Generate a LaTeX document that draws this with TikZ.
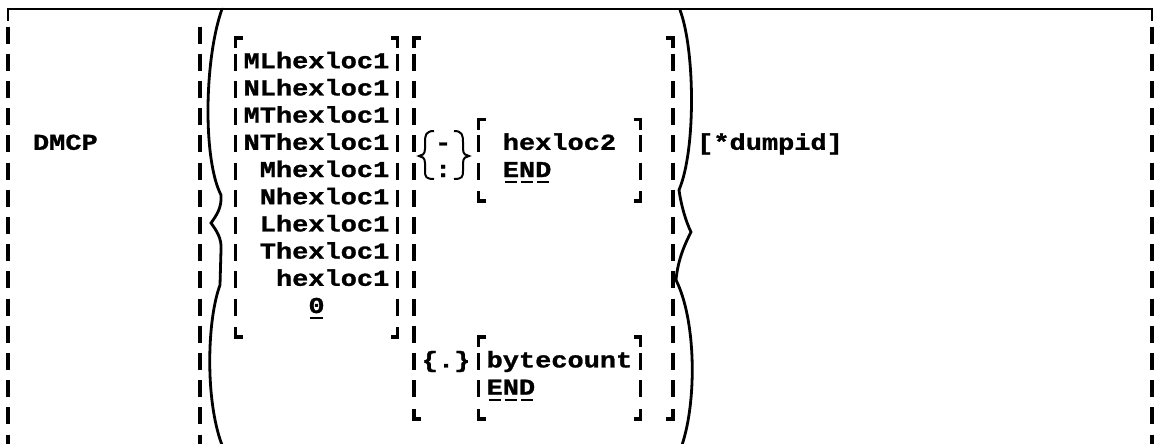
\documentclass[tikz,border=0pt]{standalone}
\usepackage{fontspec}
\newfontfamily\typefont[FakeStretch=1.19,FakeBold=1.2]{Liberation Mono}

% character grid of the typed syntax box (units are pixels, y downwards)
\newcommand\rowc[1]{(35+27.2*(#1))}
\newcommand\colx[1]{(0.6+16.2*(#1))}
\newcommand\colm[1]{(8.7+16.2*(#1))}

% typed rule pieces: bar, and the four corner marks
\newcommand\dgbar[2]{\draw[barline] ({#1},{\rowc{#2}-8.5}) -- ({#1},{\rowc{#2}+8.5});}
\newcommand\dgtl[2]{\draw[barline] ({#1},{\rowc{#2}+13}) -- ({#1},{\rowc{#2}+3}) -- ({#1+7},{\rowc{#2}+3});}
\newcommand\dgtr[2]{\draw[barline] ({#1},{\rowc{#2}+13}) -- ({#1},{\rowc{#2}+3}) -- ({#1-7},{\rowc{#2}+3});}
\newcommand\dgbl[2]{\draw[barline] ({#1},{\rowc{#2}-7}) -- ({#1},{\rowc{#2}+3}) -- ({#1+7},{\rowc{#2}+3});}
\newcommand\dgbr[2]{\draw[barline] ({#1},{\rowc{#2}-7}) -- ({#1},{\rowc{#2}+3}) -- ({#1-7},{\rowc{#2}+3});}
% underline of one typed character
\newcommand\dgul[2]{\draw[uline] ({\colx{#1}+2},{\rowc{#2}+11}) -- ({\colx{#1}+14.2},{\rowc{#2}+11});}

\begin{document}
\begin{tikzpicture}[x=0.75pt,y=-0.75pt,
  txt/.style={inner sep=0pt, outer sep=0pt, anchor=base west,
    font=\typefont\bfseries\fontsize{17}{18}\selectfont},
  barline/.style={line width=2.8pt},
  rule/.style={line width=2.2pt},
  arcline/.style={line width=2.1pt, line cap=round},
  brace/.style={line width=1.5pt},
  uline/.style={line width=1.5pt}]
\useasboundingbox (0,0) rectangle (1156,443);

% outer box: top rule with corners and the typed side bars
\draw[rule] (8,21) -- (8,9) -- (1152,9) -- (1152,21);
\foreach \r in {0,...,15} {\dgbar{8}{\r} \dgbar{1152}{\r}}

% command name
\node[txt] (dmcp) at ({\colx{2}},{\rowc{4}+6}) {DMCP};

% separator bar before the operands
\foreach \r in {0,...,15} {\dgbar{200}{\r}}

% large left and right braces around the operands
\draw[arcline] (222,9) .. controls (204,60) and (203,160) .. (221,195)
  .. controls (222,208) and (216,216) .. (211,223)
  .. controls (216,230) and (222,238) .. (221,250)
  -- (220,285) .. controls (207,320) and (205,400) .. (222,445);
\draw[arcline] (680,10) .. controls (695,50) and (696,150) .. (679,190)
  .. controls (681,205) and (686,222) .. (691,232)
  .. controls (686,242) and (678,258) .. (676,280)
  .. controls (696,320) and (697,400) .. (682,445);

% first bracket: the location forms
\dgtl{\colm{14}}{0} \dgtr{\colm{24}}{0}
\foreach \r in {1,...,10} {\dgbar{\colm{14}}{\r} \dgbar{\colm{24}}{\r}}
\dgbl{\colm{14}}{11} \dgbr{\colm{24}}{11}

\node[txt] (o1) at ({\colx{15}},{\rowc{1}+6}) {MLhexloc1};
\node[txt] (o2) at ({\colx{15}},{\rowc{2}+6}) {NLhexloc1};
\node[txt] (o3) at ({\colx{15}},{\rowc{3}+6}) {MThexloc1};
\node[txt] (o4) at ({\colx{15}},{\rowc{4}+6}) {NThexloc1};
\node[txt] (o5) at ({\colx{16}},{\rowc{5}+6}) {Mhexloc1};
\node[txt] (o6) at ({\colx{16}},{\rowc{6}+6}) {Nhexloc1};
\node[txt] (o7) at ({\colx{16}},{\rowc{7}+6}) {Lhexloc1};
\node[txt] (o8) at ({\colx{16}},{\rowc{8}+6}) {Thexloc1};
\node[txt] (o9) at ({\colx{17}},{\rowc{9}+6}) {hexloc1};
\node[txt] (o10) at ({\colx{19}},{\rowc{10}+6}) {0};
\dgul{19}{10}

% second bracket: range end or byte count
\dgtl{\colm{25}}{0} \dgtr{\colm{41}}{0}
\foreach \r in {1,...,13} {\dgbar{\colm{25}}{\r} \dgbar{\colm{41}}{\r}}
\dgbl{\colm{25}}{14} \dgbr{\colm{41}}{14}

% two-line braces around - and :
\draw[brace] (434,131) .. controls (426,131) and (425,135) .. (425,142) -- (425,149)
  .. controls (425,154) and (422,156) .. (419,156)
  .. controls (422,156) and (425,158) .. (425,163) -- (425,171)
  .. controls (425,177) and (426,179) .. (434,179);
\draw[brace] (454,131) .. controls (462,131) and (463,135) .. (463,142) -- (463,149)
  .. controls (463,154) and (466,156) .. (469,156)
  .. controls (466,156) and (463,158) .. (463,163) -- (463,171)
  .. controls (463,177) and (462,179) .. (454,179);
\node[txt] (dash) at ({\colx{27}-3},{\rowc{4}+6}) {-};
\node[txt] (colon) at ({\colx{27}-3},{\rowc{5}+6}) {:};

\dgtl{\colm{29}}{3} \dgtr{\colm{39}}{3}
\foreach \r in {4,5} {\dgbar{\colm{29}}{\r} \dgbar{\colm{39}}{\r}}
\dgbl{\colm{29}}{6} \dgbr{\colm{39}}{6}
\node[txt] (hex2) at ({\colx{31}},{\rowc{4}+6}) {hexloc2};
\node[txt] (end1) at ({\colx{31}},{\rowc{5}+6}) {END};
\dgul{31}{5} \dgul{32}{5} \dgul{33}{5}

\node[txt] (dot) at ({\colx{26}},{\rowc{12}+6}) {\{.\}};
\dgtl{\colm{29}}{11} \dgtr{\colm{39}}{11}
\foreach \r in {12,13} {\dgbar{\colm{29}}{\r} \dgbar{\colm{39}}{\r}}
\dgbl{\colm{29}}{14} \dgbr{\colm{39}}{14}
\node[txt] (bytes) at ({\colx{30}},{\rowc{12}+6}) {bytecount};
\node[txt] (end2) at ({\colx{30}},{\rowc{13}+6}) {END};
\dgul{30}{13} \dgul{31}{13} \dgul{32}{13}

% optional dump identifier
\node[txt] (dump) at ({\colx{43}},{\rowc{4}+6}) {[*dumpid]};
\end{tikzpicture}
\end{document}
